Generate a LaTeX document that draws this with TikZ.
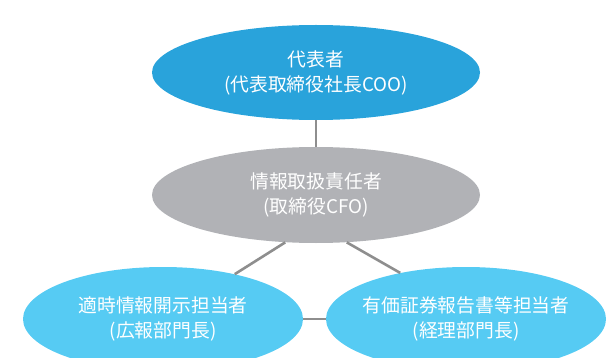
\documentclass[tikz,border=0pt]{standalone}
\usepackage{fontspec}
\setmainfont{Noto Sans CJK JP}
\usetikzlibrary{shapes.geometric}
\definecolor{topblue}{RGB}{41,163,219}
\definecolor{cfogray}{RGB}{177,178,182}
\definecolor{staffblue}{RGB}{86,203,243}
\definecolor{linegray}{RGB}{142,142,142}
\begin{document}
\begin{tikzpicture}[x=1pt, y=-1pt,
  role/.style={ellipse, inner sep=0pt},
  roletext/.style={align=center, text=white, font=\fontsize{18.8}{25}\selectfont},
  link/.style={draw=linegray, line width=2.6pt}]
\useasboundingbox (0,0) rectangle (607,358);
\clip (0,0) rectangle (607,358);
\node[role, fill=topblue, minimum width=328pt, minimum height=95pt, label={[roletext]center:代表者\\(代表取締役社長COO)}] (rep) at (316,72.5) {};
\node[role, fill=cfogray, minimum width=328pt, minimum height=96pt, label={[roletext]center:情報取扱責任者\\(取締役CFO)}] (cfo) at (316,195) {};
\node[role, fill=staffblue, minimum width=280pt, minimum height=104pt, label={[roletext]center:適時情報開示担当者\\(広報部門長)}] (pr) at (163,319) {};
\node[role, fill=staffblue, minimum width=280pt, minimum height=104pt, label={[roletext]center:有価証券報告書等担当者\\(経理部門長)}] (acct) at (466,319) {};
\draw[link] (rep) -- (cfo);
\draw[link] (cfo.237) -- (pr.32);
\draw[link] (cfo.303) -- (acct.145);
\draw[link] (pr) -- (acct);
\end{tikzpicture}
\end{document}
